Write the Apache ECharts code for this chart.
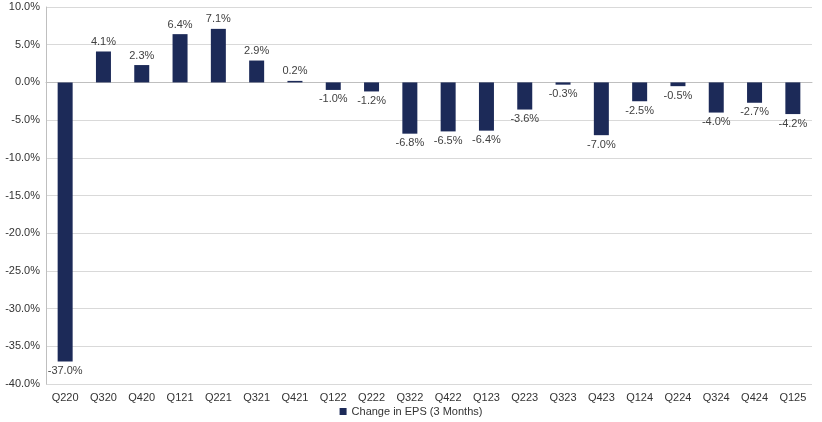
<!DOCTYPE html>
<html>
<head>
<meta charset="utf-8">
<script src="https://cdn.jsdelivr.net/npm/echarts@6/dist/echarts.min.js"></script>
<style>
html, body { margin: 0; padding: 0; background: #fff; }
#chart { width: 822px; height: 422px; }
</style>
</head>
<body>
<div id="chart"></div>
<script>
var quarters = ['Q220', 'Q320', 'Q420', 'Q121', 'Q221', 'Q321', 'Q421', 'Q122', 'Q222', 'Q322',
	'Q422', 'Q123', 'Q223', 'Q323', 'Q423', 'Q124', 'Q224', 'Q324', 'Q424', 'Q125'];
var epsChange = [-37.0, 4.1, 2.3, 6.4, 7.1, 2.9, 0.2, -1.0, -1.2, -6.8,
	-6.5, -6.4, -3.6, -0.3, -7.0, -2.5, -0.5, -4.0, -2.7, -4.2];
var seriesName = 'Change in EPS (3 Months)';

var chart = echarts.init(document.getElementById('chart'));
var font = '"Liberation Sans", Arial, sans-serif';

// label goes above positive bars, below negative ones
var barData = epsChange.map(function (v) {
	return { value: v, label: { position: v < 0 ? 'bottom' : 'top' } };
});

chart.setOption({
	animation: false,
	grid: { left: 46, right: 10, top: 7, bottom: 38 },
	legend: {
		bottom: 0,
		left: 'center',
		itemWidth: 7,
		itemHeight: 7,
		itemGap: 10,
		icon: 'rect',
		textStyle: { fontFamily: font, fontSize: 11, color: '#333' },
		data: [seriesName]
	},
	xAxis: {
		type: 'category',
		data: quarters,
		axisLine: { lineStyle: { color: '#bfbfbf' } },
		axisTick: { show: false },
		axisLabel: { fontFamily: font, fontSize: 11, color: '#333', margin: 8, interval: 0 }
	},
	yAxis: {
		type: 'value',
		min: -40,
		max: 10,
		interval: 5,
		axisLine: { show: true, lineStyle: { color: '#bfbfbf' } },
		axisTick: { show: false },
		splitLine: { lineStyle: { color: '#d9d9d9' } },
		axisLabel: {
			fontFamily: font, fontSize: 11, color: '#333', margin: 6,
			formatter: function (v) { return v.toFixed(1) + '%'; }
		}
	},
	series: [{
		name: seriesName,
		type: 'bar',
		barWidth: 15,
		itemStyle: { color: '#1c2a58' },
		label: {
			show: true,
			fontFamily: font,
			fontSize: 11,
			color: '#404040',
			distance: 4,
			formatter: function (p) { return p.value.toFixed(1) + '%'; }
		},
		data: barData
	}]
});
</script>
</body>
</html>
